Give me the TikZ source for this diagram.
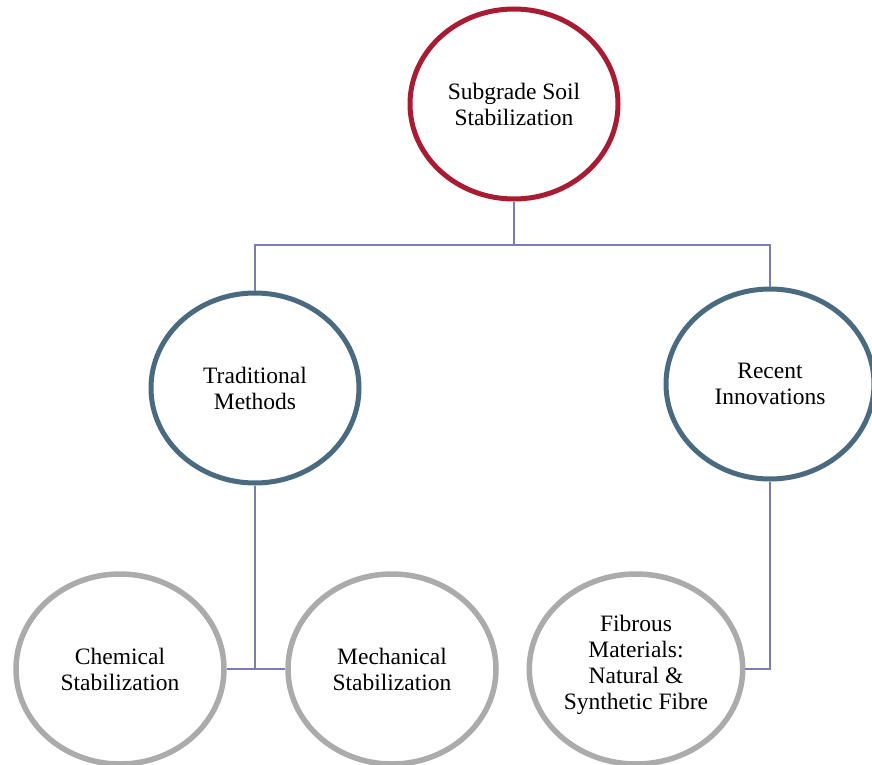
\documentclass[tikz,border=0pt]{standalone}
\usepackage{fontspec}
\setmainfont{Liberation Serif}
\usepackage{tikz}
\usetikzlibrary{shapes.geometric, positioning}
\definecolor{RootRed}{HTML}{A81C33}
\definecolor{BranchBlue}{HTML}{4A6A80}
\definecolor{LeafGrey}{HTML}{ABABAB}
\definecolor{LinkLilac}{HTML}{7C7CB4}
\tikzstyle{link} = [draw=LinkLilac, line width=1.6pt]
\tikzstyle{rootcircle} = [ellipse, minimum width=208pt, minimum height=190pt, align=center, draw=RootRed, line width=5pt, fill=white, font=\fontsize{23.5pt}{26pt}\selectfont]
\tikzstyle{branchcircle} = [rootcircle, draw=BranchBlue]
\tikzstyle{leafcircle} = [rootcircle, draw=LeafGrey, line width=5.5pt]

\begin{document}
\begin{tikzpicture}[node distance=284pt]
      \clip (0,0) rectangle (872pt,-765pt);
      \node (subgrade) [rootcircle] at (514pt,-104pt) {Subgrade Soil\\Stabilization};
      \node (traditional) [branchcircle, below of=subgrade, xshift=-259pt] {Traditional\\Methods};
      \node (recent) [branchcircle, below of=subgrade, xshift=256pt, yshift=4pt] {Recent\\Innovations};
      \coordinate [below of=subgrade, node distance=141pt] (branch);
      \draw [link] (subgrade) -- (branch) -| (traditional);
      \draw [link] (branch) -| (recent);
      \node (chemical) [leafcircle, below of=traditional, node distance=281pt, xshift=-135pt] {Chemical\\Stabilization};
      \node (mechanical) [leafcircle, below of=traditional, node distance=281pt, xshift=137pt] {Mechanical\\Stabilization};
      \coordinate [below of=traditional, node distance=281pt] (join);
      \draw [link] (traditional) -- (join);
      \draw [link] (chemical) -- (mechanical);
      \node (fibrous) [leafcircle, below of=recent, node distance=285pt, xshift=-134pt] {Fibrous\\Materials:\\Natural \&\\Synthetic Fibre\\[-12pt]};
      \draw [link] (recent) |- (fibrous);
    \end{tikzpicture}
\end{document}
